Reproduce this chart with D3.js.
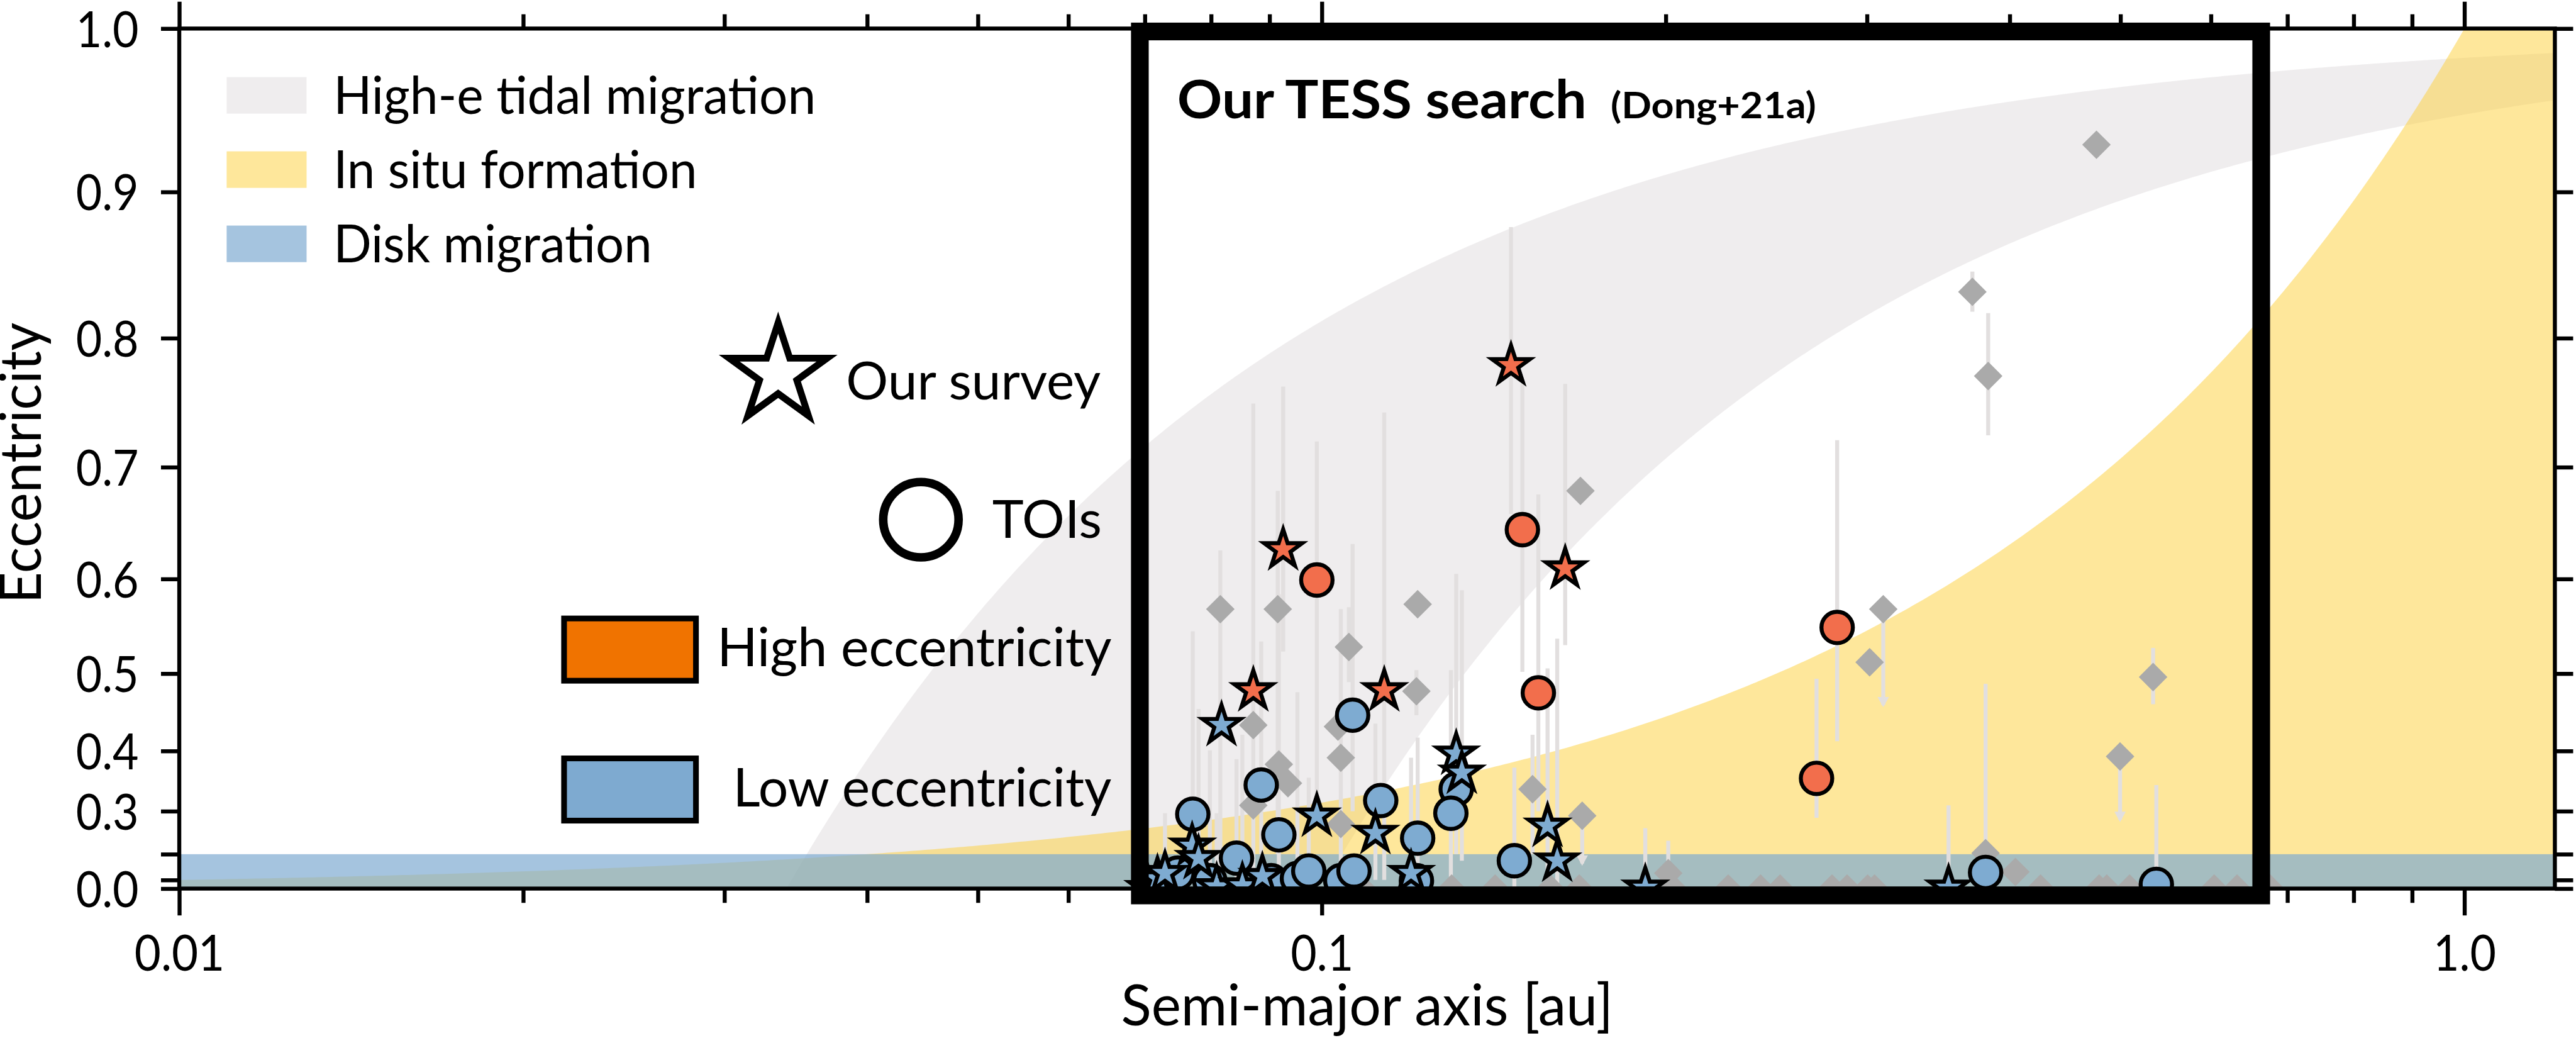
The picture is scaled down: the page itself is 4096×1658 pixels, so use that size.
<!DOCTYPE html>
<html>
<head>
<meta charset="utf-8">
<script src="https://cdn.jsdelivr.net/npm/d3@7"></script>
<style>
  html, body { margin: 0; padding: 0; background: #fff; overflow: hidden; }
  text { font-family: Lato, "Noto Sans", sans-serif; fill: #000; }
</style>
</head>
<body>
<svg id="chart" width="4096" height="1658"></svg>
<script>
// ---------------------------------------------------------------
// Data: semi-major axis a [au], eccentricity e, and e error range
// ---------------------------------------------------------------

// Planets from our survey (stars), high eccentricity: [a, e, eLo, eHi]
const surveyHighE = [
  [0.0925, 0.628, 0.525, 0.764],
  [0.0871, 0.480, 0.150, 0.751],
  [0.1134, 0.480, 0.100, 0.744],
  [0.1464, 0.780, 0.660, 0.877],
  [0.1633, 0.610, 0.532, 0.766]
];

// Planets from our survey (stars), low eccentricity
const surveyLowE = [
  [0.0817, 0.436, null, null],
  [0.0990, 0.291, null, null],
  [0.1114, 0.254, 0.100, 0.438],
  [0.1311, 0.396, 0.200, 0.605],
  [0.1326, 0.367, 0.180, 0.589],
  [0.1576, 0.270, 0.100, 0.506],
  [0.1607, 0.180, 0.000, 0.539],
  [0.1197, 0.134, 0.000, 0.390],
  [0.1919, 0.030, 0.000, 0.265],
  [0.3536, 0.030, 0.000, 0.311],
  [0.0705, 0.020, null, null],
  [0.0718, 0.109, null, null],
  [0.0729, 0.134, 0.000, 0.296],
  [0.0770, 0.223, null, null],
  [0.0780, 0.188, 0.000, 0.457],
  [0.0809, 0.050, 0.000, 0.296],
  [0.0852, 0.060, 0.000, 0.423],
  [0.0887, 0.120, null, null]
];

// TOIs (circles), high eccentricity
const toiHighE = [
  [0.0990, 0.599, 0.300, 0.721],
  [0.1498, 0.646, 0.502, 0.766],
  [0.1547, 0.477, 0.300, 0.677],
  [0.2825, 0.551, 0.414, 0.722],
  [0.2710, 0.358, 0.287, 0.494]
];

// TOIs (circles), low eccentricity
const toiLowE = [
  [0.1064, 0.449, 0.300, 0.633],
  [0.0885, 0.347, 0.200, 0.536],
  [0.0771, 0.294, 0.100, 0.547],
  [0.0917, 0.250, 0.100, 0.585],
  [0.1126, 0.320, null, null],
  [0.1213, 0.242, 0.050, 0.419],
  [0.1311, 0.340, null, null],
  [0.1297, 0.296, 0.100, 0.504],
  [0.1474, 0.180, 0.000, 0.375],
  [0.3810, 0.137, 0.000, 0.488],
  [0.5375, 0.070, 0.000, 0.347],
  [0.0748, 0.134, null, null],
  [0.0798, 0.096, 0.000, 0.401],
  [0.0842, 0.188, 0.000, 0.388],
  [0.0903, 0.096, null, null],
  [0.0952, 0.109, 0.000, 0.478],
  [0.0974, 0.143, 0.000, 0.359],
  [0.1039, 0.096, 0.000, 0.570],
  [0.1067, 0.143, null, null],
  [0.1210, 0.096, null, null]
];

// Other known warm Jupiters (grey diamonds): [a, e, eLo, eHi, upperLimit]
const otherPlanets = [
  [0.4764, 0.930, null, null, 0],
  [0.3710, 0.833, 0.819, 0.847, 0],
  [0.3830, 0.772, 0.726, 0.818, 0],
  [0.5340, 0.496, 0.463, 0.529, 0],
  [0.4996, 0.392, 0.283, 0.392, 1],
  [0.3100, 0.570, 0.462, 0.570, 1],
  [0.3016, 0.513, null, null, 0],
  [0.1690, 0.291, 0.171, 0.291, 1],
  [0.1684, 0.680, null, null, 0],
  [0.0815, 0.570, 0.050, 0.627, 0],
  [0.0915, 0.570, 0.200, 0.680, 0],
  [0.1213, 0.575, null, null, 0],
  [0.1056, 0.530, 0.490, 0.572, 0],
  [0.1210, 0.479, 0.449, 0.504, 0],
  [0.0871, 0.436, null, null, 0],
  [0.1033, 0.434, null, null, 0],
  [0.1039, 0.390, null, null, 0],
  [0.0917, 0.380, null, null, 0],
  [0.0934, 0.350, null, null, 0],
  [0.1529, 0.340, 0.200, 0.423, 0],
  [0.1039, 0.274, null, null, 0],
  [0.0871, 0.311, null, null, 0],
  [0.2010, 0.134, 0.100, 0.236, 0],
  [0.3810, 0.203, null, null, 0],
  [0.4046, 0.139, null, null, 0],
  [0.0746, 0.000, null, null, 0],
  [0.0853, 0.000, null, null, 0],
  [0.0926, 0.000, null, null, 0],
  [0.1085, 0.000, null, null, 0],
  [0.1299, 0.000, null, null, 0],
  [0.1418, 0.000, null, null, 0],
  [0.1585, 0.000, null, null, 0],
  [0.1680, 0.000, null, null, 0],
  [0.2030, 0.000, null, null, 0],
  [0.2268, 0.000, null, null, 0],
  [0.2421, 0.000, null, null, 0],
  [0.2518, 0.000, null, null, 0],
  [0.2796, 0.000, null, null, 0],
  [0.2882, 0.000, null, null, 0],
  [0.3004, 0.000, null, null, 0],
  [0.3046, 0.000, null, null, 0],
  [0.4256, 0.000, null, null, 0],
  [0.4790, 0.000, null, null, 0],
  [0.4864, 0.000, null, null, 0],
  [0.5093, 0.000, null, null, 0],
  [0.6039, 0.000, null, null, 0],
  [0.6324, 0.000, null, null, 0],
  [0.6761, 0.000, null, null, 0]
];

// Formation-channel regions
const tidalFinalA = [0.034, 0.1];   // a(1 - e^2) range for high-e tidal migration [au]
const inSituScaleA = 1.0;           // in situ: e < sqrt(a / 1 au)
const diskMaxE = 0.2;               // disk migration: e < 0.2

// Survey window (a range in au, e range)
const surveyBoxA = [0.0693, 0.664];
const surveyBoxE = [-0.0893, 0.9983];

// Axes
const xDomain = [0.01, 1.2];
const xMajorTicks = [0.01, 0.1, 1.0];
const xMajorLabels = ["0.01", "0.1", "1.0"];
const xMinorTicks = [0.02, 0.03, 0.04, 0.05, 0.06, 0.07, 0.08, 0.09,
                     0.2, 0.3, 0.4, 0.5, 0.6, 0.7, 0.8, 0.9];
const yTicks = [0.0, 0.1, 0.2, 0.3, 0.4, 0.5, 0.6, 0.7, 0.8, 0.9, 1.0];
const yTickLabels = ["0.0", "", "", "0.3", "0.4", "0.5", "0.6", "0.7", "0.8", "0.9", "1.0"];

const channelLegend = ["High-e tidal migration", "In situ formation", "Disk migration"];

// ---------------------------------------------------------------
// Layout (drawn on a 4512 x 1826 canvas, scaled to the window)
// ---------------------------------------------------------------
const S = 4096 / 4512;
const P = { x0: 314, x1: 4475, y0: 50, y1: 1556 };

const COL = {
  tidal: "#e2dee0", tidalOp: 0.55,
  insitu: "#fdcf37", insituOp: 0.5,
  disk: "#7caad1", diskOp: 0.69,
  high: "#f26e4c", low: "#7eabd1",
  legHigh: "#f07300", legLow: "#7eaad0",
  other: "#aaaaaa", err: "#e2dfdf"
};

const svg = d3.select("#chart");
const root = svg.append("g").attr("transform", `scale(${S})`);

const x = d3.scaleLog().domain(xDomain).range([P.x0, P.x1]);
const y = d3.scalePow().exponent(2).domain([0, 1]).range([P.y1, P.y0]);

const defs = svg.append("defs");
defs.append("clipPath").attr("id", "plotClip")
  .append("rect")
  .attr("x", P.x0).attr("y", P.y0)
  .attr("width", P.x1 - P.x0).attr("height", P.y1 - P.y0);

const plotG = root.append("g").attr("clip-path", "url(#plotClip)");

// ---- formation-channel regions ----
const logGrid = (lo, hi, n) => d3.range(n + 1).map(i =>
  Math.pow(10, Math.log10(lo) + i * (Math.log10(hi) - Math.log10(lo)) / n));

const bandArea = d3.area()
  .x(d => x(d.a)).y0(d => y(d.lo)).y1(d => y(d.hi));

// high-e tidal migration: constant final orbit a(1-e^2)
const tidalPts = logGrid(tidalFinalA[0], xDomain[1], 500).map(a => ({
  a,
  hi: Math.sqrt(Math.max(0, 1 - tidalFinalA[0] / a)),
  lo: a > tidalFinalA[1] ? Math.sqrt(1 - tidalFinalA[1] / a) : 0
}));
plotG.append("path").attr("d", bandArea(tidalPts))
  .attr("fill", COL.tidal).attr("fill-opacity", COL.tidalOp);

// in situ formation: e up to sqrt(a / 1 au)
const insituGrid = logGrid(xDomain[0], xDomain[1], 500).concat([inSituScaleA]).sort((p, q) => p - q);
const insituPts = insituGrid.map(a => ({ a, lo: 0, hi: Math.min(1, Math.sqrt(a / inSituScaleA)) }));
plotG.append("path").attr("d", bandArea(insituPts))
  .attr("fill", COL.insitu).attr("fill-opacity", COL.insituOp);

// disk migration: low e everywhere
plotG.append("rect")
  .attr("x", x(xDomain[0])).attr("width", x(xDomain[1]) - x(xDomain[0]))
  .attr("y", y(diskMaxE)).attr("height", y(0) - y(diskMaxE))
  .attr("fill", COL.disk).attr("fill-opacity", COL.diskOp);

// ---- error bars ----
const allPoints = [].concat(otherPlanets, toiHighE, toiLowE, surveyHighE, surveyLowE)
  .filter(d => d[2] !== null);
const errG = plotG.append("g");
errG.selectAll("line").data(allPoints).join("line")
  .attr("x1", d => x(d[0])).attr("x2", d => x(d[0]))
  .attr("y1", d => y(d[2])).attr("y2", d => y(d[3]))
  .attr("stroke", COL.err).attr("stroke-width", 7);
errG.selectAll("path.lim").data(otherPlanets.filter(d => d[4] === 1)).join("path")
  .attr("class", "lim")
  .attr("d", d => {
    const cx = x(d[0]), cy = y(d[2]);
    return `M${cx - 10},${cy - 14}L${cx + 10},${cy - 14}L${cx},${cy + 4}Z`;
  })
  .attr("fill", COL.err);

// ---- markers ----
const diamond = "M0,-25L25,0L0,25L-25,0Z";
function starPath(R) {
  const r = R * 0.381966;
  const pts = d3.range(10).map(i => {
    const ang = -Math.PI / 2 + i * Math.PI / 5;
    const rad = i % 2 === 0 ? R : r;
    return [rad * Math.cos(ang), rad * Math.sin(ang)];
  });
  return "M" + pts.map(p => p[0].toFixed(2) + "," + p[1].toFixed(2)).join("L") + "Z";
}
const starD = starPath(35);

plotG.append("g").selectAll("path").data(otherPlanets).join("path")
  .attr("d", diamond)
  .attr("transform", d => `translate(${x(d[0])},${y(d[1])})`)
  .attr("fill", COL.other);

const circG = plotG.append("g");
[[toiLowE, COL.low], [toiHighE, COL.high]].forEach(([arr, c]) => {
  circG.append("g").selectAll("circle").data(arr).join("circle")
    .attr("cx", d => x(d[0])).attr("cy", d => y(d[1])).attr("r", 27.5)
    .attr("fill", c).attr("stroke", "#000").attr("stroke-width", 7);
});

const starG = plotG.append("g");
[[surveyLowE, COL.low], [surveyHighE, COL.high]].forEach(([arr, c]) => {
  starG.append("g").selectAll("path").data(arr).join("path")
    .attr("d", starD)
    .attr("transform", d => `translate(${x(d[0])},${y(d[1])})`)
    .attr("fill", c).attr("stroke", "#000").attr("stroke-width", 7)
    .attr("stroke-linejoin", "miter").attr("stroke-miterlimit", 10);
});

// ---- axes ----
function styleAxis(g) {
  g.select(".domain").remove();
  g.selectAll(".tick line").attr("stroke", "#000").attr("stroke-width", 7);
}
const labelW = s => (s.replace(/\./g, "").length * 48 + (s.includes(".") ? 14 : 0));

root.append("g").attr("transform", `translate(0,${P.y1})`)
  .call(d3.axisBottom(x).tickValues(xMinorTicks).tickSize(25).tickFormat(""))
  .call(styleAxis);
root.append("g").attr("transform", `translate(0,${P.y0})`)
  .call(d3.axisTop(x).tickValues(xMinorTicks).tickSize(25).tickFormat(""))
  .call(styleAxis);
root.append("g").attr("transform", `translate(0,${P.y0})`)
  .call(d3.axisTop(x).tickValues(xMajorTicks).tickSize(47).tickFormat(""))
  .call(styleAxis);
const xAx = root.append("g").attr("transform", `translate(0,${P.y1})`)
  .call(d3.axisBottom(x).tickValues(xMajorTicks).tickSize(47).tickPadding(34)
    .tickFormat((d, i) => xMajorLabels[i]))
  .call(styleAxis);
xAx.selectAll(".tick text")
  .attr("font-size", 88).attr("font-family", "Lato, sans-serif").attr("fill", "#000")
  .attr("textLength", d => labelW(xMajorLabels[xMajorTicks.indexOf(d)]))
  .attr("lengthAdjust", "spacingAndGlyphs");

const yAx = root.append("g").attr("transform", `translate(${P.x0},0)`)
  .call(d3.axisLeft(y).tickValues(yTicks).tickSize(32).tickPadding(39)
    .tickFormat((d, i) => yTickLabels[i]))
  .call(styleAxis);
yAx.selectAll(".tick text")
  .attr("font-size", 88).attr("font-family", "Lato, sans-serif").attr("fill", "#000")
  .attr("dy", "0.36em")
  .each(function (d, i) {
    const s = yTickLabels[i];
    if (s) d3.select(this).attr("textLength", labelW(s)).attr("lengthAdjust", "spacingAndGlyphs");
  });
root.append("g").attr("transform", `translate(${P.x1},0)`)
  .call(d3.axisRight(y).tickValues(yTicks).tickSize(32).tickFormat(""))
  .call(styleAxis);

// spines
root.append("rect")
  .attr("x", P.x0).attr("y", P.y0)
  .attr("width", P.x1 - P.x0).attr("height", P.y1 - P.y0)
  .attr("fill", "none").attr("stroke", "#000").attr("stroke-width", 7);

// axis titles
root.append("text")
  .attr("x", (P.x0 + P.x1) / 2).attr("y", 1795)
  .attr("text-anchor", "middle").attr("font-size", 100)
  .attr("textLength", 862).attr("lengthAdjust", "spacingAndGlyphs")
  .text("Semi-major axis [au]");
root.append("text")
  .attr("transform", "translate(72,811) rotate(-90)")
  .attr("text-anchor", "middle").attr("font-size", 100)
  .attr("textLength", 492).attr("lengthAdjust", "spacingAndGlyphs")
  .text("Eccentricity");

// ---- survey window ----
root.append("rect")
  .attr("x", x(surveyBoxA[0])).attr("y", y(surveyBoxE[1]))
  .attr("width", x(surveyBoxA[1]) - x(surveyBoxA[0]))
  .attr("height", y(surveyBoxE[0]) - y(surveyBoxE[1]))
  .attr("fill", "none").attr("stroke", "#000").attr("stroke-width", 31);

root.append("text").attr("x", 2062).attr("y", 207)
  .attr("font-size", 93).attr("font-weight", 700)
  .attr("textLength", 717).attr("lengthAdjust", "spacingAndGlyphs")
  .text("Our TESS search");
root.append("text").attr("x", 2821).attr("y", 207)
  .attr("font-size", 64).attr("font-weight", 700)
  .attr("textLength", 360).attr("lengthAdjust", "spacingAndGlyphs")
  .text("(Dong+21a)");

// ---- channel legend (top left) ----
const chanFill = [[COL.tidal, COL.tidalOp], [COL.insitu, COL.insituOp], [COL.disk, COL.diskOp]];
const chanW = [845, 637, 558];
channelLegend.forEach((name, i) => {
  const top = 135 + i * 130;
  root.append("rect").attr("x", 397).attr("y", top).attr("width", 140).attr("height", 64)
    .attr("fill", chanFill[i][0]).attr("fill-opacity", chanFill[i][1]);
  root.append("text").attr("x", 584).attr("y", top + 64)
    .attr("font-size", 92)
    .attr("textLength", chanW[i]).attr("lengthAdjust", "spacingAndGlyphs")
    .text(name);
});

// ---- marker legend (middle) ----
const mLeg = root.append("g");
mLeg.append("path").attr("d", starPath(90))
  .attr("transform", "translate(1363,655)")
  .attr("fill", "#fff").attr("stroke", "#000").attr("stroke-width", 12)
  .attr("stroke-linejoin", "miter").attr("stroke-miterlimit", 10);
mLeg.append("text").attr("x", 1482).attr("y", 699).attr("font-size", 92)
  .attr("textLength", 446).attr("lengthAdjust", "spacingAndGlyphs").text("Our survey");

mLeg.append("circle").attr("cx", 1613).attr("cy", 910).attr("r", 66)
  .attr("fill", "#fff").attr("stroke", "#000").attr("stroke-width", 15);
mLeg.append("text").attr("x", 1738).attr("y", 942).attr("font-size", 92)
  .attr("textLength", 192).attr("lengthAdjust", "spacingAndGlyphs").text("TOIs");

mLeg.append("rect").attr("x", 988).attr("y", 1083).attr("width", 231).attr("height", 109)
  .attr("fill", COL.legHigh).attr("stroke", "#000").attr("stroke-width", 10);
mLeg.append("text").attr("x", 1256).attr("y", 1167).attr("font-size", 94)
  .attr("textLength", 691).attr("lengthAdjust", "spacingAndGlyphs").text("High eccentricity");

mLeg.append("rect").attr("x", 988).attr("y", 1328).attr("width", 231).attr("height", 109)
  .attr("fill", COL.legLow).attr("stroke", "#000").attr("stroke-width", 10);
mLeg.append("text").attr("x", 1284).attr("y", 1412).attr("font-size", 94)
  .attr("textLength", 663).attr("lengthAdjust", "spacingAndGlyphs").text("Low eccentricity");
</script>
</body>
</html>
